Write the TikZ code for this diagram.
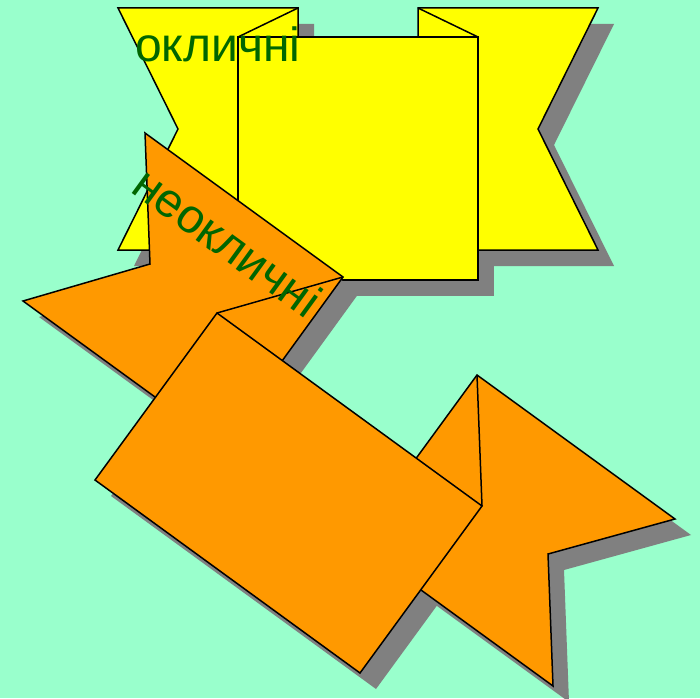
\documentclass[tikz,border=0pt]{standalone}
\usepackage{fontspec}
\newfontfamily\ribbonfont{Liberation Sans}
\definecolor{bgmint}{RGB}{153, 255, 204}
\definecolor{ribbonyellow}{RGB}{255, 255, 0}
\definecolor{ribbonorange}{RGB}{255, 153, 0}
\definecolor{shadowgray}{RGB}{128, 128, 128}
\definecolor{textgreen}{RGB}{0, 102, 0}

\begin{document}
\begin{tikzpicture}[x=1pt, y=-1pt]
            \tikzset{
                ribbonline/.style={draw=black, line width=1.5pt},
                ribbonshadow/.style={fill=shadowgray, draw=none, shift={(16,16)}},
                ribbontext/.style={font=\ribbonfont\fontsize{48}{50}\selectfont, text=textgreen, inner sep=0pt}
            }
            % Background
            \fill[bgmint] (0,0) rectangle (700,698);
            \useasboundingbox (0,0) rectangle (700,698);

            % Yellow ribbon - shadow
            \fill[ribbonshadow] (298,8) -- (118,8) -- (178,129) -- (118,250) -- (298,250) -- cycle;
            \fill[ribbonshadow] (418,8) -- (598,8) -- (538,129) -- (598,250) -- (418,250) -- cycle;
            \fill[ribbonshadow] (238,37) rectangle (478,280);

            % Yellow ribbon - tails
            \draw[ribbonline, fill=ribbonyellow] (298,8) -- (118,8) -- (178,129) -- (118,250) -- (298,250) -- cycle;
            \draw[ribbonline, fill=ribbonyellow] (418,8) -- (598,8) -- (538,129) -- (598,250) -- (418,250) -- cycle;
            \draw[ribbonline] (298,8) -- (238,37);
            \draw[ribbonline] (418,8) -- (478,37);

            % Yellow ribbon - front panel
            \draw[ribbonline, fill=ribbonyellow] (238,37) rectangle (478,280);

            % Orange ribbon - shadow
            \fill[ribbonshadow] (343,277) -- (145,133) -- (150,264) -- (23,301) -- (221,445) -- cycle;
            \fill[ribbonshadow] (477,375) -- (675,519) -- (548,554) -- (553,686) -- (355,542) -- cycle;
            \fill[ribbonshadow] (217,313) -- (482,506) -- (360,673) -- (95,480) -- cycle;

            % Orange ribbon - tails
            \draw[ribbonline, fill=ribbonorange] (343,277) -- (145,133) -- (150,264) -- (23,301) -- (221,445) -- cycle;
            \draw[ribbonline, fill=ribbonorange] (477,375) -- (675,519) -- (548,554) -- (553,686) -- (355,542) -- cycle;
            \draw[ribbonline] (343,277) -- (217,313);
            \draw[ribbonline] (477,375) -- (482,506);

            % Orange ribbon - front panel
            \draw[ribbonline, fill=ribbonorange] (217,313) -- (482,506) -- (360,673) -- (95,480) -- cycle;

            % Labels
            \node[ribbontext, anchor=base west] (okl) at (135,62) {окличні};
            \node[ribbontext, anchor=base west, rotate=-36] (neokl) at (129,191) {неокличні};
        \end{tikzpicture}
\end{document}
